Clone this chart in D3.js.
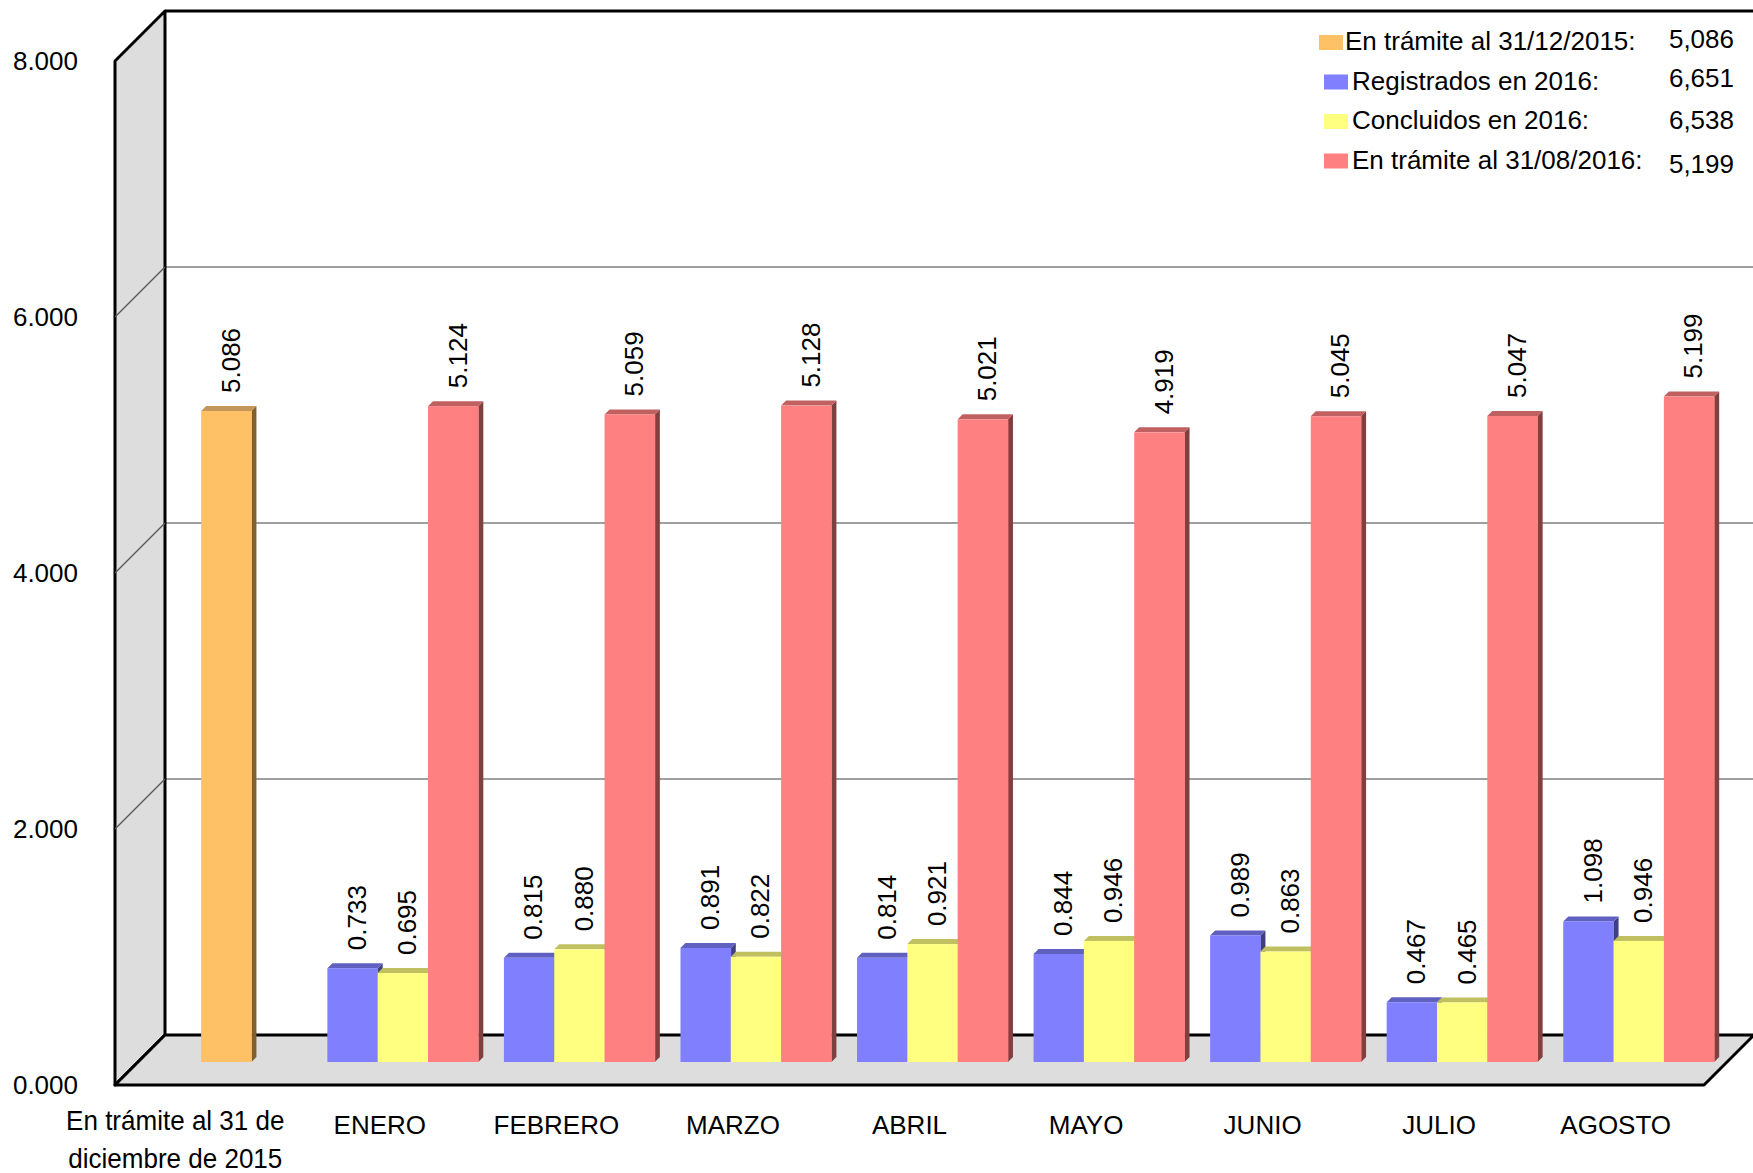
<!DOCTYPE html>
<html>
<head>
<meta charset="utf-8">
<script src="https://cdn.jsdelivr.net/npm/d3@7"></script>
<style>
  body { margin: 0; background: #fff; }
  text { font-family: "Liberation Sans", Arial, sans-serif; fill: #000; }
</style>
</head>
<body>
<div id="main"></div>
<script>
// values in thousands, as the chart prints them
let categories = ["En trámite al 31 de diciembre de 2015", "ENERO", "FEBRERO", "MARZO", "ABRIL", "MAYO", "JUNIO", "JULIO", "AGOSTO"];
let months = categories.slice(1);
let enTramite2015 = [5.086];
let registrados = [0.733, 0.815, 0.891, 0.814, 0.844, 0.989, 0.467, 1.098];
let concluidos = [0.695, 0.880, 0.822, 0.921, 0.946, 0.863, 0.465, 0.946];
let enTramite = [5.124, 5.059, 5.128, 5.021, 4.919, 5.045, 5.047, 5.199];
let yTicks = [0, 2, 4, 6, 8];
let seriesNames = ["reg", "con", "pen"];
let legendLabels = ["En trámite al 31/12/2015:", "Registrados en 2016:", "Concluidos en 2016:", "En trámite al 31/08/2016:"];

let colors = {
    ini: {face: "#FFC166", top: "#C4965A", side: "#82602E"},
    reg: {face: "#8080FF", top: "#6060C0", side: "#404080"},
    con: {face: "#FFFF80", top: "#C0C060", side: "#808040"},
    pen: {face: "#FF8080", top: "#C06060", side: "#804040"}
};

let width = 1753, height = 1173;
let depth = 50;      // 3d depth of the walls
let barDepth = 23;   // where the bars stand on the floor
let box = 5;         // thickness of each bar

let svg = d3.select("#main")
    .append("svg")
    .attr("width", width)
    .attr("height", height);

let xScale = d3.scaleBand().domain(categories).range([115, 1704]);
let yScale = d3.scaleLinear().domain([0, 8]).range([1085, 61]);
let bw = xScale.bandwidth() * 0.285;
let inner = d3.scaleBand().domain(seriesNames).range([0, bw * 3]);
let clusterOff = (xScale.bandwidth() - bw * 3) / 2;

let x0 = xScale.range()[0], x1 = xScale.range()[1];
let yTop = yScale(8), yBase = yScale(0);

// back wall
svg.append("rect")
    .attr("x", x0 + depth).attr("y", yTop - depth)
    .attr("width", width - x0 - depth + 5).attr("height", yBase - yTop)
    .attr("fill", "#fff");

// gridlines on back wall and left wall
yTicks.filter(d => d > 0 && d < 8).forEach(v => {
    svg.append("line")
        .attr("x1", x0 + depth).attr("x2", width)
        .attr("y1", yScale(v) - depth).attr("y2", yScale(v) - depth)
        .attr("stroke", "#7f7f7f").attr("stroke-width", 1.3);
});

// left wall
svg.append("path")
    .attr("d", `M${x0},${yTop} L${x0 + depth},${yTop - depth} L${x0 + depth},${yBase - depth} L${x0},${yBase} Z`)
    .attr("fill", "#DDDDDD")
    .attr("stroke", "#000").attr("stroke-width", 3).attr("stroke-linejoin", "round");

yTicks.filter(d => d > 0 && d < 8).forEach(v => {
    svg.append("line")
        .attr("x1", x0).attr("y1", yScale(v))
        .attr("x2", x0 + depth).attr("y2", yScale(v) - depth)
        .attr("stroke", "#555").attr("stroke-width", 1.2);
});

// top edge of back wall
svg.append("line")
    .attr("x1", x0 + depth).attr("x2", width)
    .attr("y1", yTop - depth).attr("y2", yTop - depth)
    .attr("stroke", "#000").attr("stroke-width", 3);

// floor
svg.append("path")
    .attr("d", `M${x0},${yBase} L${x0 + depth},${yBase - depth} L${x1 + depth},${yBase - depth} L${x1},${yBase} Z`)
    .attr("fill", "#DDDDDD")
    .attr("stroke", "#000").attr("stroke-width", 3).attr("stroke-linejoin", "round");

// y axis labels
svg.selectAll(".ylab")
    .data(yTicks)
    .enter()
    .append("text")
    .attr("class", "ylab")
    .attr("x", 78)
    .attr("y", d => yScale(d))
    .attr("dy", "0.36em")
    .attr("text-anchor", "end")
    .style("font-size", "26px")
    .text(d => d3.format(".3f")(d));

// bars
function drawBar(x, v, c) {
    let yb = yScale(0) - barDepth;
    let yt = yScale(v) - barDepth;
    let xl = x + barDepth;
    let g = svg.append("g");
    g.append("path")
        .attr("d", `M${xl + bw},${yb} L${xl + bw + box},${yb - box} L${xl + bw + box},${yt - box} L${xl + bw},${yt} Z`)
        .attr("fill", c.side);
    g.append("path")
        .attr("d", `M${xl},${yt} L${xl + box},${yt - box} L${xl + bw + box},${yt - box} L${xl + bw},${yt} Z`)
        .attr("fill", c.top);
    g.append("rect")
        .attr("x", xl).attr("y", yt)
        .attr("width", bw + 0.4).attr("height", yb - yt)
        .attr("fill", c.face);
    let lx = xl + bw / 2 + 4;
    let ly = yt - 18;
    svg.append("text")
        .attr("transform", `translate(${lx},${ly}) rotate(-90)`)
        .attr("dy", "0.36em")
        .style("font-size", "26px")
        .text(d3.format(".3f")(v));
}

drawBar(xScale(categories[0]) + (xScale.bandwidth() - bw) / 2, enTramite2015[0], colors.ini);

months.forEach((m, i) => {
    let base = xScale(m) + clusterOff;
    drawBar(base + inner("reg"), registrados[i], colors.reg);
    drawBar(base + inner("con"), concluidos[i], colors.con);
    drawBar(base + inner("pen"), enTramite[i], colors.pen);
});

// category labels
svg.selectAll(".xlab")
    .data(months)
    .enter()
    .append("text")
    .attr("class", "xlab")
    .attr("x", d => xScale(d) + xScale.bandwidth() / 2)
    .attr("y", 1134)
    .attr("text-anchor", "middle")
    .style("font-size", "26px")
    .text(d => d);

let first = svg.append("g")
    .attr("transform", `translate(${xScale(categories[0]) + xScale.bandwidth() / 2 - 28},0) scale(0.93,1)`);
["En trámite al 31 de", "diciembre de 2015"].forEach((line, i) => {
    first.append("text")
        .attr("x", 0)
        .attr("y", 1130 + i * 38)
        .attr("text-anchor", "middle")
        .style("font-size", "28px")
        .text(line);
});

// legend
let legendValues = [
    d3.sum(enTramite2015),
    d3.sum(registrados),
    d3.sum(concluidos),
    enTramite[enTramite.length - 1]
].map(d => d3.format(",.0f")(d * 1000));
let legendColors = [colors.ini.face, colors.reg.face, colors.con.face, colors.pen.face];
let valueNudge = [-2, -3, 0, 4];

legendLabels.forEach((lab, i) => {
    let by = 50 + i * 39.5;
    svg.append("rect")
        .attr("x", i === 0 ? 1319 : 1324).attr("y", by - 15)
        .attr("width", 24).attr("height", 15)
        .attr("fill", legendColors[i]);
    svg.append("text")
        .attr("x", i === 0 ? 1345 : 1352)
        .attr("y", by)
        .style("font-size", "26px")
        .text(lab);
    svg.append("text")
        .attr("x", 1734)
        .attr("y", by + valueNudge[i])
        .attr("text-anchor", "end")
        .style("font-size", "26px")
        .text(legendValues[i]);
});
</script>
</body>
</html>
